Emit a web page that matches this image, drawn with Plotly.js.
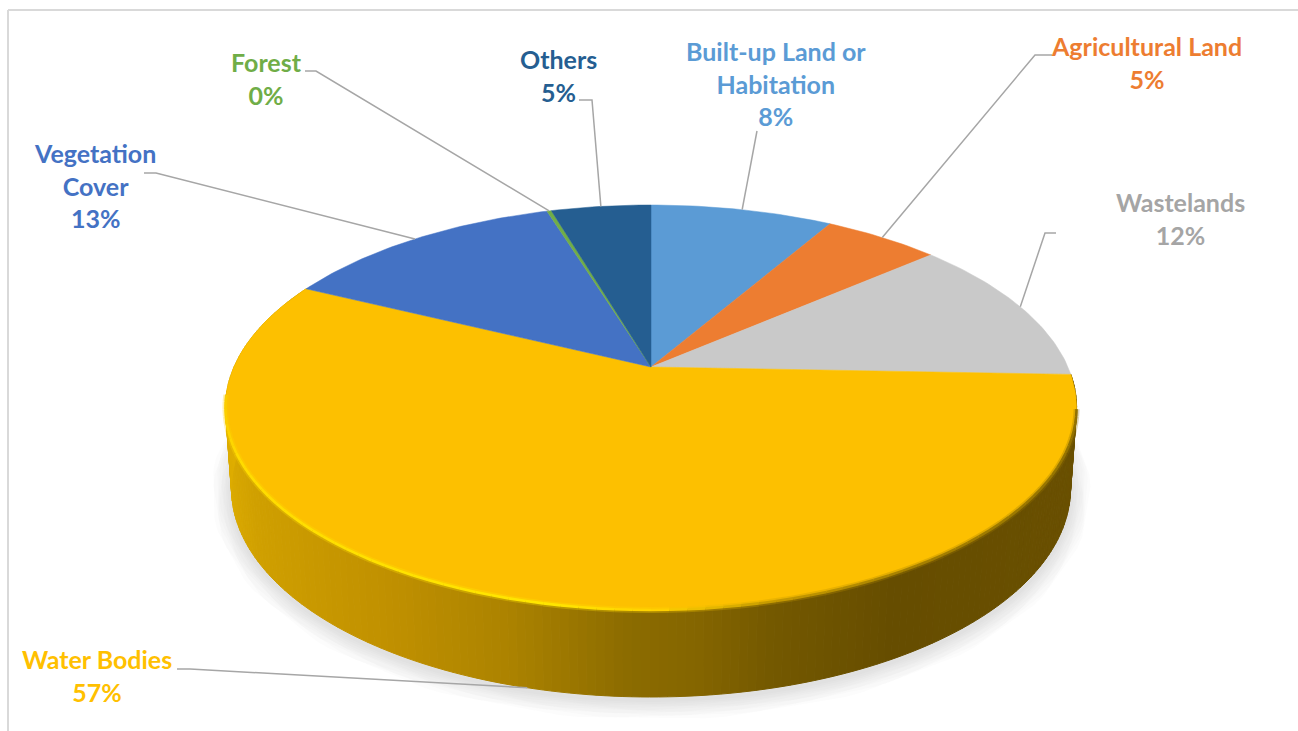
<!DOCTYPE html>
<html>
<head>
<meta charset="utf-8">
<script src="https://cdn.plot.ly/plotly-3.0.1.min.js"></script>
<style>html,body{margin:0;padding:0;background:#fff;}#chart{width:1298px;height:731px;}</style>
</head>
<body>
<div id="chart"></div>
<script>
// Land-use shares, clockwise from twelve o'clock
const categories = ['Built-up Land or Habitation', 'Agricultural Land', 'Wastelands', 'Water Bodies', 'Vegetation Cover', 'Forest', 'Others'];
const shares = [8.4, 5.3, 11.9, 56.6, 13.0, 0.2, 4.6];
const sliceColors = ['#5B9BD5', '#ED7D31', '#C9C9C9', '#FDC000', '#4472C4', '#70AD47', '#255E91'];
const labelColors = ['#5B9BD5', '#ED7D31', '#A5A5A5', '#FFC000', '#4472C4', '#70AD47', '#255E91'];
const labelNames = ['Built-up Land or<br>Habitation', 'Agricultural Land', 'Wastelands', 'Water Bodies', 'Vegetation<br>Cover', 'Forest', 'Others'];

// Label placement and leader elbows, in page pixels
const labelCentres = [[776, 83], [1146, 62], [1180, 218], [97, 675], [95, 185], [266, 78], [558, 75]];
const leaderStarts = [[757, 131], [1052, 55], [1056, 233], [177, 669], [144, 173], [305, 71], [579, 100]];
const leaderElbows = [[757, 131], [1035, 55], [1045, 233], [190, 669], [156, 173], [316, 71], [592, 100]];

// Perspective disc: top face and the base plane of the drum
const topFace = {cx: 651, cy: 367, a: 417, b: 194.4};
const baseFace = {cx: 651, cy: 447, a: 411, b: 200};
const tilt = 0.2;

// Wall and rim shading, keyed on the horizontal position across the disc (-1 left, +1 right)
const wallStops = [[-1, '#DFAE00'], [-0.85, '#D0A000'], [-0.52, '#C09000'], [-0.28, '#AC8300'], [-0.04, '#8B6B00'], [0.08, '#856600'], [0.24, '#735800'], [0.48, '#664D00'], [1, '#6A5000']];
const rimStops = [[-1, '#FBCA00'], [-0.9, '#FFDC00'], [-0.2, '#FFE600'], [0.02, '#FFD000'], [0.22, '#C89C00'], [0.5, '#A88200'], [1, '#907000']];

const total = shares.reduce((s, v) => s + v, 0);
const rad = d => d * Math.PI / 180;

function project(face, deg) {
  const X = Math.sin(rad(deg)), Y = Math.cos(rad(deg));
  const w = 1 + tilt * Y;
  return [face.cx + face.a * X / w, face.cy - face.b * Y / w];
}

function hex(c) { return [1, 3, 5].map(i => parseInt(c.substr(i, 2), 16)); }
function ramp(stops, t) {
  for (let i = 1; i < stops.length; i++) {
    if (t <= stops[i][0]) {
      const f = (t - stops[i - 1][0]) / (stops[i][0] - stops[i - 1][0]);
      const p = hex(stops[i - 1][1]), q = hex(stops[i][1]);
      return 'rgb(' + p.map((v, k) => Math.round(v + (q[k] - v) * Math.max(0, f))).join(',') + ')';
    }
  }
  return stops[stops.length - 1][1];
}

// Slice boundaries in degrees
const bounds = [0];
shares.forEach(v => bounds.push(bounds[bounds.length - 1] + v / total * 360));

const traces = [];
const plain = {mode: 'lines', hoverinfo: 'skip', showlegend: false};

function arc(face, from, to, step) {
  const pts = [];
  const n = Math.max(2, Math.ceil((to - from) / step));
  for (let i = 0; i <= n; i++) pts.push(project(face, from + (to - from) * i / n));
  return pts;
}

// Soft drop shadow under the drum
for (let w = 40; w >= 4; w -= 4) {
  const pts = arc({cx: 651, cy: 450, a: 411, b: 200}, 66, 294, 2);
  traces.push({...plain, x: pts.map(p => p[0]), y: pts.map(p => p[1]),
    line: {color: 'rgba(120,120,120,0.02)', width: w}});
}

// Side wall of the largest slice, as narrow shaded strips
const wallFrom = bounds[3], wallTo = bounds[4];
const stripStep = 1;
for (let d = wallFrom; d < wallTo; d += stripStep) {
  const e = Math.min(d + stripStep, wallTo);
  const a = project(topFace, d), b = project(topFace, e), c = project(baseFace, e), f = project(baseFace, d);
  const col = ramp(wallStops, Math.sin(rad((d + e) / 2)));
  traces.push({...plain, x: [a[0], b[0], c[0], f[0], a[0]], y: [a[1], b[1], c[1], f[1], a[1]],
    fill: 'toself', fillcolor: col, line: {color: col, width: 1}});
}

// Top face slices
shares.forEach((v, i) => {
  const pts = [[topFace.cx, topFace.cy]].concat(arc(topFace, bounds[i], bounds[i + 1], 1));
  pts.push([topFace.cx, topFace.cy]);
  traces.push({...plain, x: pts.map(p => p[0]), y: pts.map(p => p[1]),
    fill: 'toself', fillcolor: sliceColors[i], line: {color: sliceColors[i], width: 0.5}});
});

// Bevel along the front rim of the top face: a soft wide pass, then a tighter one
[[6, 0.3], [2.6, 1]].forEach(([width, opacity]) => {
  for (let d = 102; d < 262; d += 2) {
    const pts = arc(topFace, d, d + 2, 2);
    traces.push({...plain, x: pts.map(p => p[0]), y: pts.map(p => p[1]), opacity: opacity,
      line: {color: ramp(rimStops, Math.sin(rad(d + 1))), width: width}});
  }
});

// Leader lines run from each label's elbow to the middle of its slice's outer edge
const annotations = [];
shares.forEach((v, i) => {
  const mid = (bounds[i] + bounds[i + 1]) / 2;
  const frontFacing = Math.cos(rad(mid)) < -0.5;
  const end = project(frontFacing ? baseFace : topFace, mid);
  traces.push({...plain, x: [leaderStarts[i][0], leaderElbows[i][0], end[0]], y: [leaderStarts[i][1], leaderElbows[i][1], end[1]],
    line: {color: '#A6A6A6', width: 1.5}});
  annotations.push({
    x: labelCentres[i][0], y: labelCentres[i][1], xref: 'x', yref: 'y',
    xanchor: 'center', yanchor: 'middle', showarrow: false, align: 'center',
    text: '<b>' + labelNames[i] + '<br>' + Math.round(v / total * 100) + '%</b>',
    font: {family: 'Lato, Carlito, sans-serif', size: 25, color: labelColors[i]}
  });
});

const layout = {
  width: 1298, height: 731,
  margin: {l: 0, r: 0, t: 0, b: 0},
  paper_bgcolor: '#fff', plot_bgcolor: '#fff',
  xaxis: {range: [0, 1298], visible: false, fixedrange: true},
  yaxis: {range: [731, 0], visible: false, fixedrange: true},
  showlegend: false,
  annotations: annotations,
  shapes: [
    {type: 'line', xref: 'paper', yref: 'paper', x0: 8 / 1298, x1: 8 / 1298, y0: 0, y1: 1 - 10 / 731, line: {color: '#D9D9D9', width: 2}},
    {type: 'line', xref: 'paper', yref: 'paper', x0: 8 / 1298, x1: 1, y0: 1 - 10 / 731, y1: 1 - 10 / 731, line: {color: '#D9D9D9', width: 2}}
  ]
};

Plotly.newPlot('chart', traces, layout, {displayModeBar: false, staticPlot: true});
</script>
</body>
</html>
